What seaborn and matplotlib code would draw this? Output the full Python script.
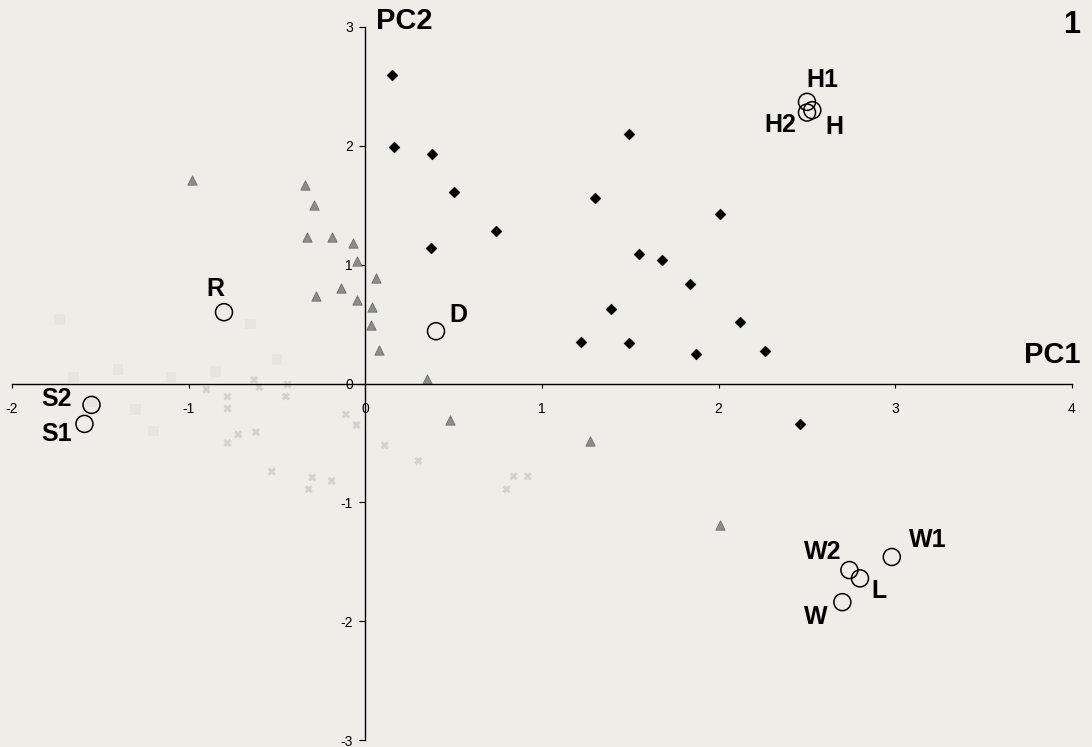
import pandas as pd
import matplotlib.pyplot as plt
import seaborn as sns

# --- data ---
# black diamonds
dia_x = [0.15, 0.16, 0.38, 0.50, 0.74, 0.37, 1.49, 1.30, 2.01, 1.55, 1.68, 1.84,
         1.39, 2.12, 1.22, 1.49, 1.87, 2.26, 2.46]
dia_y = [2.60, 1.99, 1.93, 1.61, 1.28, 1.14, 2.10, 1.56, 1.43, 1.09, 1.04, 0.84,
         0.63, 0.52, 0.35, 0.34, 0.25, 0.27, -0.34]

# grey triangles
tri_x = [-0.98, -0.34, -0.29, -0.33, -0.19, -0.07, -0.05, 0.06, -0.14, -0.28,
         -0.05, 0.04, 0.03, 0.08, 0.35, 0.48, 1.27, 2.01]
tri_y = [1.71, 1.67, 1.50, 1.23, 1.23, 1.18, 1.03, 0.89, 0.80, 0.74,
         0.70, 0.64, 0.49, 0.28, 0.04, -0.31, -0.48, -1.19]

# faint (washed out) cross markers
crs_x = [-0.90, -0.78, -0.78, -0.63, -0.60, -0.44, -0.45, -0.11, -0.05, 0.11,
         -0.72, -0.78, -0.62, -0.53, -0.30, -0.19, -0.32, 0.30, 0.84, 0.92, 0.80]
crs_y = [-0.05, -0.11, -0.21, 0.03, -0.03, -0.01, -0.11, -0.26, -0.35, -0.52,
         -0.43, -0.50, -0.41, -0.74, -0.79, -0.82, -0.89, -0.65, -0.78, -0.78, -0.89]

# almost invisible smudges on the left
fnt_x = [-1.73, -1.55, -1.30, -1.10, -1.40, -0.50, -0.65, -1.20, -0.85, -1.65]
fnt_y = [0.54, -0.15, -0.22, 0.05, 0.12, 0.20, 0.50, -0.40, 0.10, 0.05]

# labelled reference samples (open circles)
ref_names = ["H1", "H", "H2", "W1", "W2", "L", "W", "S2", "S1", "R", "D"]
ref_x = [2.50, 2.53, 2.50, 2.98, 2.74, 2.80, 2.70, -1.55, -1.59, -0.80, 0.40]
ref_y = [2.37, 2.30, 2.28, -1.46, -1.57, -1.64, -1.84, -0.18, -0.34, 0.60, 0.44]
ref_dx = [11, 16, -19, 26, -19, 14, -19, -25, -20, -6, 16]
ref_dy = [16, -12, -9, 12, 13, -9, -11, 4, -7, 17, 12]

x_ticks = [-2, -1, 0, 1, 2, 3, 4]
y_ticks = [-3, -2, -1, 0, 1, 2, 3]

sns.set_style("white")
plt.rcParams['font.family'] = ['Liberation Sans', 'DejaVu Sans']
plt.rcParams['axes.unicode_minus'] = False
plt.rcParams['text.color'] = 'black'
plt.rcParams['xtick.color'] = 'black'
plt.rcParams['ytick.color'] = 'black'

bg = "#efede7"
fig = plt.figure(figsize=(10.92, 7.47), dpi=100, facecolor=bg)
ax = fig.add_axes([12 / 1092, 7 / 747, 1060 / 1092, 713 / 747])
ax.set_facecolor(bg)

sns.scatterplot(x=fnt_x, y=fnt_y, marker="s", s=60, color="#e7e5df",
                edgecolor="none", ax=ax)
sns.scatterplot(x=crs_x, y=crs_y, marker="X", s=35, color="#d4d2cc",
                edgecolor="none", ax=ax)
sns.scatterplot(x=tri_x, y=tri_y, marker="^", s=45, color="#8c8c8c",
                edgecolor="#6e6e6e", linewidth=0.6, ax=ax)
sns.scatterplot(x=dia_x, y=dia_y, marker="D", s=30, color="black",
                edgecolor="black", ax=ax)
refs = pd.DataFrame({"x": ref_x, "y": ref_y})
sns.scatterplot(data=refs, x="x", y="y", marker="o", s=150, facecolor="none",
                edgecolor="black", linewidth=1.1, ax=ax)

for name, x, y, dx, dy in zip(ref_names, ref_x, ref_y, ref_dx, ref_dy):
    ax.annotate(name, (x, y), xytext=(dx, dy), textcoords="offset points",
                ha="center", va="center", fontsize=18, fontweight="bold",
                color="black")

ax.set_xlim(-2, 4)
ax.set_ylim(-3, 3)
ax.set_xticks(x_ticks)
ax.set_yticks(y_ticks)
ax.set_xlabel("")
ax.set_ylabel("")

for side in ["top", "right"]:
    ax.spines[side].set_visible(False)
ax.spines["left"].set_position(("data", 0))
ax.spines["bottom"].set_position(("data", 0))
for side in ["left", "bottom"]:
    ax.spines[side].set_color("black")
    ax.spines[side].set_linewidth(1.0)

ax.tick_params(axis="x", direction="out", length=3, width=0.8, pad=10,
               labelsize=10, bottom=True, colors="black")
ax.tick_params(axis="y", direction="out", length=4, width=0.8, pad=5,
               labelsize=10, left=True, colors="black")

fig.text(404 / 1092, 1 - 21 / 747, "PC2", ha="center", va="center",
         fontsize=21, fontweight="bold", color="black")
fig.text(1081 / 1092, 1 - 355 / 747, "PC1", ha="right", va="center",
         fontsize=21, fontweight="bold", color="black")
fig.text(1072 / 1092, 1 - 25 / 747, "1", ha="center", va="center",
         fontsize=22, fontweight="bold", color="black")

fig.savefig("out.png", dpi=100, facecolor=bg)
